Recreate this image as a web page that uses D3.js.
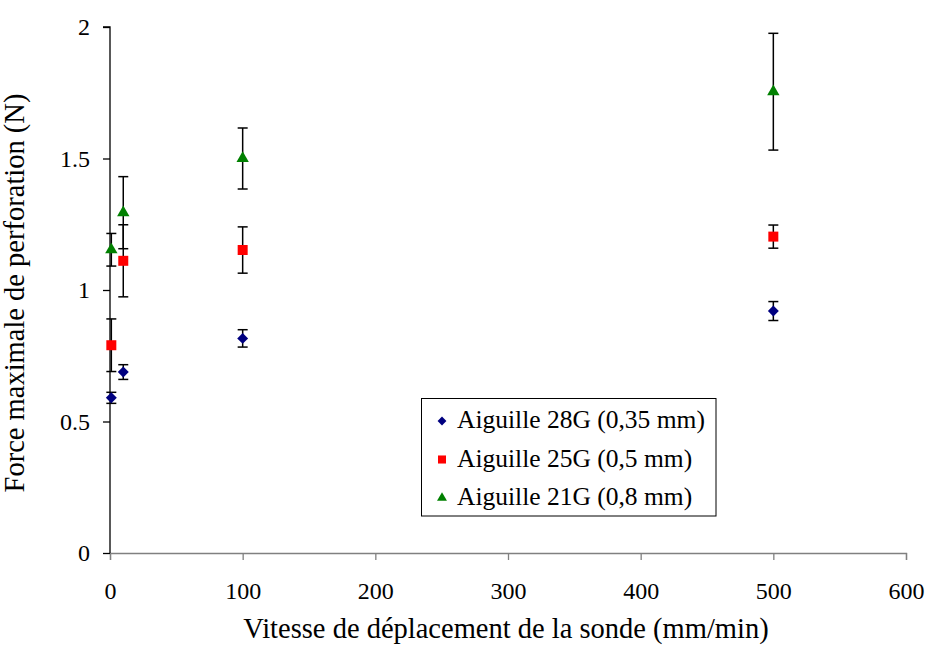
<!DOCTYPE html>
<html>
<head>
<meta charset="utf-8">
<script src="https://cdn.jsdelivr.net/npm/d3@7"></script>
<style>
  html, body { margin: 0; padding: 0; background: #fff; }
  svg { display: block; }
  text { font-family: "Liberation Serif", "Times New Roman", serif; fill: #000; }
</style>
</head>
<body>
<svg id="chart" width="927" height="645"></svg>
<script>
// Probe speed (mm/min)
const speeds = [1, 10, 100, 500];

// Needle series: mean peak force (N) and standard deviation
const labels = ["Aiguille 28G (0,35 mm)", "Aiguille 25G (0,5 mm)", "Aiguille 21G (0,8 mm)"];
const force28G = [0.59, 0.688, 0.816, 0.92];
const err28G   = [0.021, 0.028, 0.033, 0.036];
const force25G = [0.79, 1.111, 1.152, 1.203];
const err25G   = [0.10, 0.137, 0.088, 0.044];
const force21G = [1.153, 1.294, 1.50, 1.754];
const err21G   = [0.062, 0.137, 0.116, 0.222];

const xTicks = [0, 100, 200, 300, 400, 500, 600];
const yTicks = [0, 0.5, 1, 1.5, 2];
const yTickLabels = ["0", "0.5", "1", "1.5", "2"];

const colors = ["#000080", "#FF0000", "#008000"];
// Diamond is drawn as a square turned by 45 degrees
const shapes = [d3.symbolSquare, d3.symbolSquare, d3.symbolTriangle];
const rotations = [45, 0, 0];
const sizes = [60, 100, 66];

const series = [
  { label: labels[0], values: force28G, errors: err28G },
  { label: labels[1], values: force25G, errors: err25G },
  { label: labels[2], values: force21G, errors: err21G }
];

const FONT = "Liberation Serif, Times New Roman, serif";
const svg = d3.select("#chart");
const x = d3.scaleLinear().domain([0, 600]).range([110, 906]);
const y = d3.scaleLinear().domain([0, 2]).range([553, 27]);

// Axes
const xAxis = svg.append("g")
  .attr("transform", `translate(0,${y(0)})`)
  .attr("font-family", FONT)
  .call(d3.axisBottom(x).tickValues(xTicks).tickSize(7).tickPadding(22).tickFormat(d3.format("d")));
xAxis.select(".domain").attr("stroke", "#808080").attr("stroke-width", 1.3);
xAxis.selectAll(".tick line").attr("stroke", "#808080").attr("stroke-width", 1.3);
xAxis.selectAll(".tick text").attr("font-size", 24).attr("font-family", FONT);

const yAxis = svg.append("g")
  .attr("transform", `translate(${x(0)},0)`)
  .attr("font-family", FONT)
  .call(d3.axisLeft(y).tickValues(yTicks).tickSize(7).tickPadding(13)
    .tickFormat((d, i) => yTickLabels[i]));
yAxis.select(".domain").attr("stroke", "#000").attr("stroke-width", 1.3).attr("d", `M-7,${y(2)}H0V${y(0)}`);
yAxis.selectAll(".tick line").attr("stroke", "#000").attr("stroke-width", 1.3);
yAxis.selectAll(".tick text").attr("font-size", 24).attr("font-family", FONT);

// Axis titles
svg.append("text")
  .attr("x", 506).attr("y", 638)
  .attr("text-anchor", "middle")
  .attr("font-family", FONT)
  .attr("font-size", 28.5)
  .text("Vitesse de déplacement de la sonde (mm/min)");

svg.append("text")
  .attr("transform", `translate(24,293) rotate(-90)`)
  .attr("text-anchor", "middle")
  .attr("font-family", FONT)
  .attr("font-size", 28.5)
  .text("Force maximale de perforation (N)");

// Error bars
const capHalf = 5;
series.forEach(s => {
  const pts = speeds.map((sp, i) => ({ sp, v: s.values[i], e: s.errors[i] }));
  const eb = svg.append("g").selectAll(".err").data(pts).join("g").attr("class", "err")
    .attr("stroke", "#000").attr("stroke-width", 1.5);
  eb.append("line")
    .attr("x1", d => x(d.sp)).attr("x2", d => x(d.sp))
    .attr("y1", d => y(d.v + d.e)).attr("y2", d => y(d.v - d.e));
  eb.append("line")
    .attr("x1", d => x(d.sp) - capHalf).attr("x2", d => x(d.sp) + capHalf)
    .attr("y1", d => y(d.v + d.e)).attr("y2", d => y(d.v + d.e));
  eb.append("line")
    .attr("x1", d => x(d.sp) - capHalf).attr("x2", d => x(d.sp) + capHalf)
    .attr("y1", d => y(d.v - d.e)).attr("y2", d => y(d.v - d.e));
});

// Markers
series.forEach((s, si) => {
  svg.append("g").selectAll("path").data(speeds.map((sp, i) => ({ sp, v: s.values[i] })))
    .join("path")
    .attr("d", d3.symbol().type(shapes[si]).size(sizes[si]))
    .attr("transform", d => `translate(${x(d.sp)},${y(d.v)}) rotate(${rotations[si]})`)
    .attr("fill", colors[si]);
});

// Legend
const legend = svg.append("g");
legend.append("rect")
  .attr("x", 421.5).attr("y", 398.5).attr("width", 294.5).attr("height", 117.5)
  .attr("fill", "#fff").attr("stroke", "#000").attr("stroke-width", 1);
series.forEach((s, si) => {
  const cy = 421 + si * 38.5;
  legend.append("path")
    .attr("d", d3.symbol().type(shapes[si]).size(sizes[si] * 0.65))
    .attr("transform", `translate(442,${cy}) rotate(${rotations[si]})`)
    .attr("fill", colors[si]);
  legend.append("text")
    .attr("x", 457).attr("y", cy + 7)
    .attr("font-family", FONT)
    .attr("font-size", 25.5)
    .text(s.label);
});
</script>
</body>
</html>
